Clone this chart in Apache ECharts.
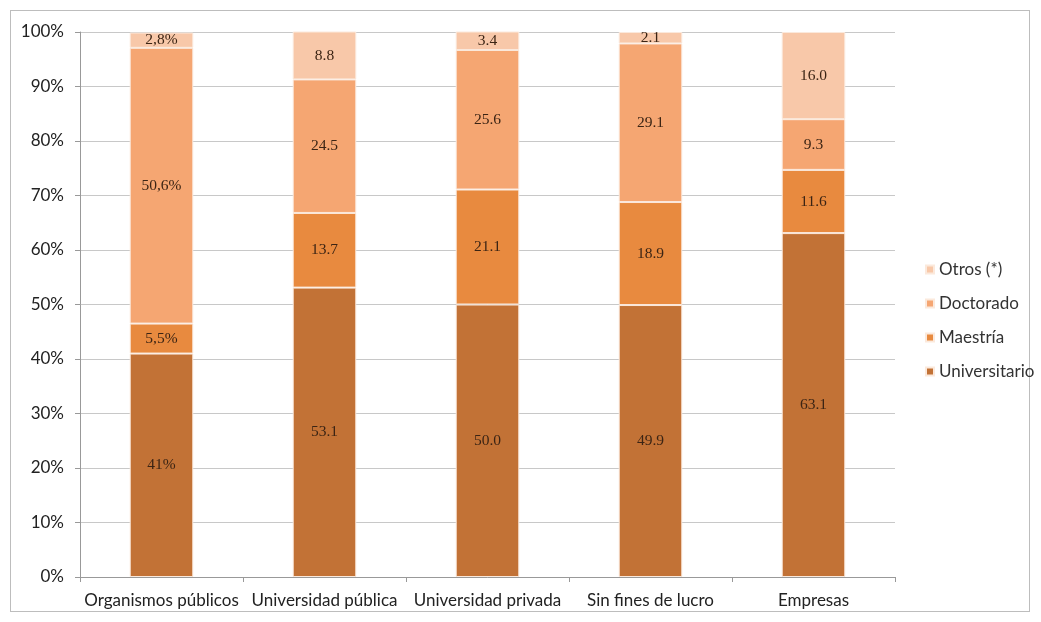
<!DOCTYPE html>
<html>
<head>
<meta charset="utf-8">
<script src="https://cdn.jsdelivr.net/npm/echarts@6/dist/echarts.min.js"></script>
<style>
    html, body { margin: 0; padding: 0; background: #fff; }
    #frame { position: absolute; left: 10px; top: 10px; width: 1020px; height: 602px; border: 1px solid #bdbdbd; box-sizing: border-box; }
    #chart { position: absolute; left: 0; top: 0; width: 1041px; height: 622px; }
</style>
</head>
<body>
<div id="frame"></div>
<div id="chart"></div>
<script>
// categorias y series (porcentajes)
var categories = ["Organismos públicos", "Universidad pública", "Universidad privada", "Sin fines de lucro", "Empresas"];
var universitario = [41.0, 53.1, 50.0, 49.9, 63.1];
var maestria = [5.5, 13.7, 21.1, 18.9, 11.6];
var doctorado = [50.6, 24.5, 25.6, 29.1, 9.3];
var otros = [2.8, 8.8, 3.4, 2.1, 16.0];
// textos de etiqueta tal como aparecen
var universitarioLabels = ["41%", "53.1", "50.0", "49.9", "63.1"];
var maestriaLabels = ["5,5%", "13.7", "21.1", "18.9", "11.6"];
var doctoradoLabels = ["50,6%", "24.5", "25.6", "29.1", "9.3"];
var otrosLabels = ["2,8%", "8.8", "3.4", "2.1", "16.0"];

function buildSeries(name, data, labels, color) {
    return {
        name: name,
        type: 'bar',
        stack: 'total',
        barWidth: '39%',
        data: data,
        itemStyle: {
            color: color,
            borderColor: '#fbe9dc',
            borderWidth: 1
        },
        label: {
            show: true,
            position: 'inside',
            formatter: function(p) {
                return labels[p.dataIndex];
            },
            color: '#3b2414',
            fontFamily: 'Liberation Serif',
            fontSize: 15.5
        }
    };
}

var myChart = echarts.init(document.getElementById('chart'));
var option = {
    animation: false,
    grid: {
        left: 80,
        right: 146,
        top: 32,
        bottom: 45
    },
    legend: {
        orient: 'vertical',
        left: 920,
        top: 256,
        itemWidth: 8,
        itemHeight: 8,
        itemGap: 17,
        icon: 'rect',
        data: ['Otros (*)', 'Doctorado', 'Maestría', 'Universitario'],
        textStyle: {
            fontFamily: 'Lato',
            fontSize: 17,
            color: '#333'
        }
    },
    xAxis: {
        type: 'category',
        data: categories,
        axisLine: { lineStyle: { color: '#999' } },
        axisTick: { show: true, length: 5, lineStyle: { color: '#999' } },
        axisLabel: {
            fontFamily: 'Lato',
            fontSize: 17,
            color: '#222',
            margin: 15,
            interval: 0
        }
    },
    yAxis: {
        type: 'value',
        min: 0,
        max: 100,
        interval: 10,
        axisLine: { show: true, lineStyle: { color: '#999' } },
        axisTick: { show: true, length: 5, lineStyle: { color: '#999' } },
        splitLine: { lineStyle: { color: '#c8c8c8' } },
        axisLabel: {
            formatter: '{value}%',
            fontFamily: 'Lato',
            fontSize: 17,
            color: '#222',
            margin: 16
        }
    },
    series: [
        buildSeries('Universitario', universitario, universitarioLabels, '#c27236'),
        buildSeries('Maestría', maestria, maestriaLabels, '#e88a3f'),
        buildSeries('Doctorado', doctorado, doctoradoLabels, '#f5a672'),
        buildSeries('Otros (*)', otros, otrosLabels, '#f8c8a9')
    ]
};
myChart.setOption(option);
</script>
</body>
</html>
